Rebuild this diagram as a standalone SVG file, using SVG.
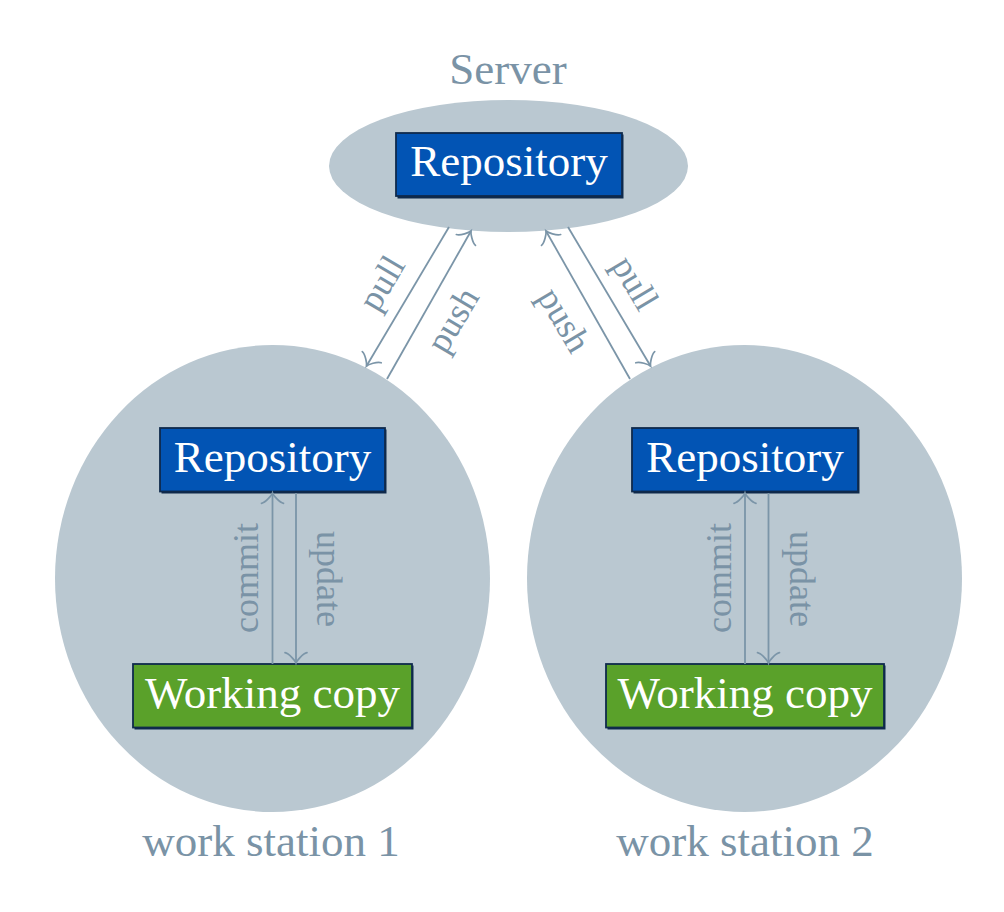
<svg xmlns="http://www.w3.org/2000/svg" width="1004" height="912" viewBox="0 0 1004 912">
  <style>
    .area { fill: #bac8d1; }
    .title { font-family: "Liberation Serif", "Times New Roman", serif; font-size: 45px; fill: #7a93a6; text-anchor: middle; }
    .lbl { font-family: "Liberation Serif", "Times New Roman", serif; font-size: 36px; fill: #7a93a6; text-anchor: middle; }
    .ntext { font-family: "Liberation Serif", "Times New Roman", serif; font-size: 45px; fill: #ffffff; text-anchor: middle; }
    .repo { fill: #0254b4; stroke: #0f2a4c; stroke-width: 1.8; }
    .work { fill: #5aa12a; stroke: #0f2a4c; stroke-width: 1.8; }
    .shadow { fill: #0f2a4c; }
    .edge { stroke: #7b95a8; stroke-width: 1.8; fill: none; marker-end: url(#to); }
  </style>
  <defs>
    <marker id="to" markerUnits="userSpaceOnUse" markerWidth="24" markerHeight="26" viewBox="-12 -13 14 26" refX="0" refY="0" orient="auto" overflow="visible">
      <path d="M -10.3,11 C -9.6,6.9 -2.1,0.7 0,0 C -2.1,-0.7 -9.6,-6.9 -10.3,-11" fill="none" stroke="#7b95a8" stroke-width="1.7" stroke-linecap="round"/>
    </marker>
  </defs>
  <rect x="0" y="0" width="1004" height="912" fill="#ffffff"/>

  <g id="server">
    <ellipse class="area" cx="508.5" cy="166" rx="179.5" ry="66"/>
    <text class="title" x="508" y="84">Server</text>
  </g>
  <g id="ws1">
    <ellipse class="area" cx="272.5" cy="578.5" rx="217.5" ry="233.5"/>
    <text class="title" x="271" y="856">work station 1</text>
  </g>
  <g id="ws2">
    <ellipse class="area" cx="744.5" cy="578.5" rx="217.5" ry="233.5"/>
    <text class="title" x="745" y="856">work station 2</text>
  </g>

  <g id="server-repo">
    <rect class="shadow" x="397.5" y="134.5" width="226" height="64"/>
    <rect class="repo" x="396" y="133" width="226" height="63"/>
    <text class="ntext" x="509" y="176">Repository</text>
  </g>
  <g id="ws1-repo">
    <rect class="shadow" x="161.5" y="429.5" width="225" height="64"/>
    <rect class="repo" x="160" y="428" width="225" height="63.5"/>
    <text class="ntext" x="272.5" y="471.5">Repository</text>
  </g>
  <g id="ws1-work">
    <rect class="shadow" x="134.5" y="665.5" width="279" height="64"/>
    <rect class="work" x="133" y="664" width="279" height="63.5"/>
    <text class="ntext" x="272.5" y="707.5">Working copy</text>
  </g>
  <g id="ws2-repo">
    <rect class="shadow" x="633.5" y="429.5" width="226" height="64"/>
    <rect class="repo" x="632" y="428" width="226" height="63.5"/>
    <text class="ntext" x="745" y="471.5">Repository</text>
  </g>
  <g id="ws2-work">
    <rect class="shadow" x="607.5" y="665.5" width="278" height="64"/>
    <rect class="work" x="606" y="664" width="278" height="63.5"/>
    <text class="ntext" x="745" y="707.5">Working copy</text>
  </g>

  <g id="connectors">
    <!-- server <-> ws1 -->
    <line class="edge" x1="449" y1="227" x2="366.5" y2="366"/>
    <line class="edge" x1="387" y1="379" x2="471" y2="231"/>
    <!-- server <-> ws2 -->
    <line class="edge" x1="568" y1="227" x2="650.5" y2="366"/>
    <line class="edge" x1="630" y1="379" x2="546" y2="231"/>
    <!-- ws1 internal -->
    <line class="edge" x1="272.5" y1="664" x2="272.5" y2="493"/>
    <line class="edge" x1="296" y1="493" x2="296" y2="663"/>
    <!-- ws2 internal -->
    <line class="edge" x1="745" y1="664" x2="745" y2="493"/>
    <line class="edge" x1="768.5" y1="493" x2="768.5" y2="663"/>

    <text class="lbl" transform="translate(385,285) rotate(-59.3)" y="8">pull</text>
    <text class="lbl" transform="translate(456,322) rotate(-59.3)" y="8">push</text>
    <text class="lbl" transform="translate(632,285) rotate(59.3)" y="8">pull</text>
    <text class="lbl" transform="translate(561,322) rotate(59.3)" y="8">push</text>

    <text class="lbl" transform="translate(258,578) rotate(-90)">commit</text>
    <text class="lbl" transform="translate(317,579) rotate(90)">update</text>
    <text class="lbl" transform="translate(730.5,578) rotate(-90)">commit</text>
    <text class="lbl" transform="translate(789.5,579) rotate(90)">update</text>
  </g>
</svg>
